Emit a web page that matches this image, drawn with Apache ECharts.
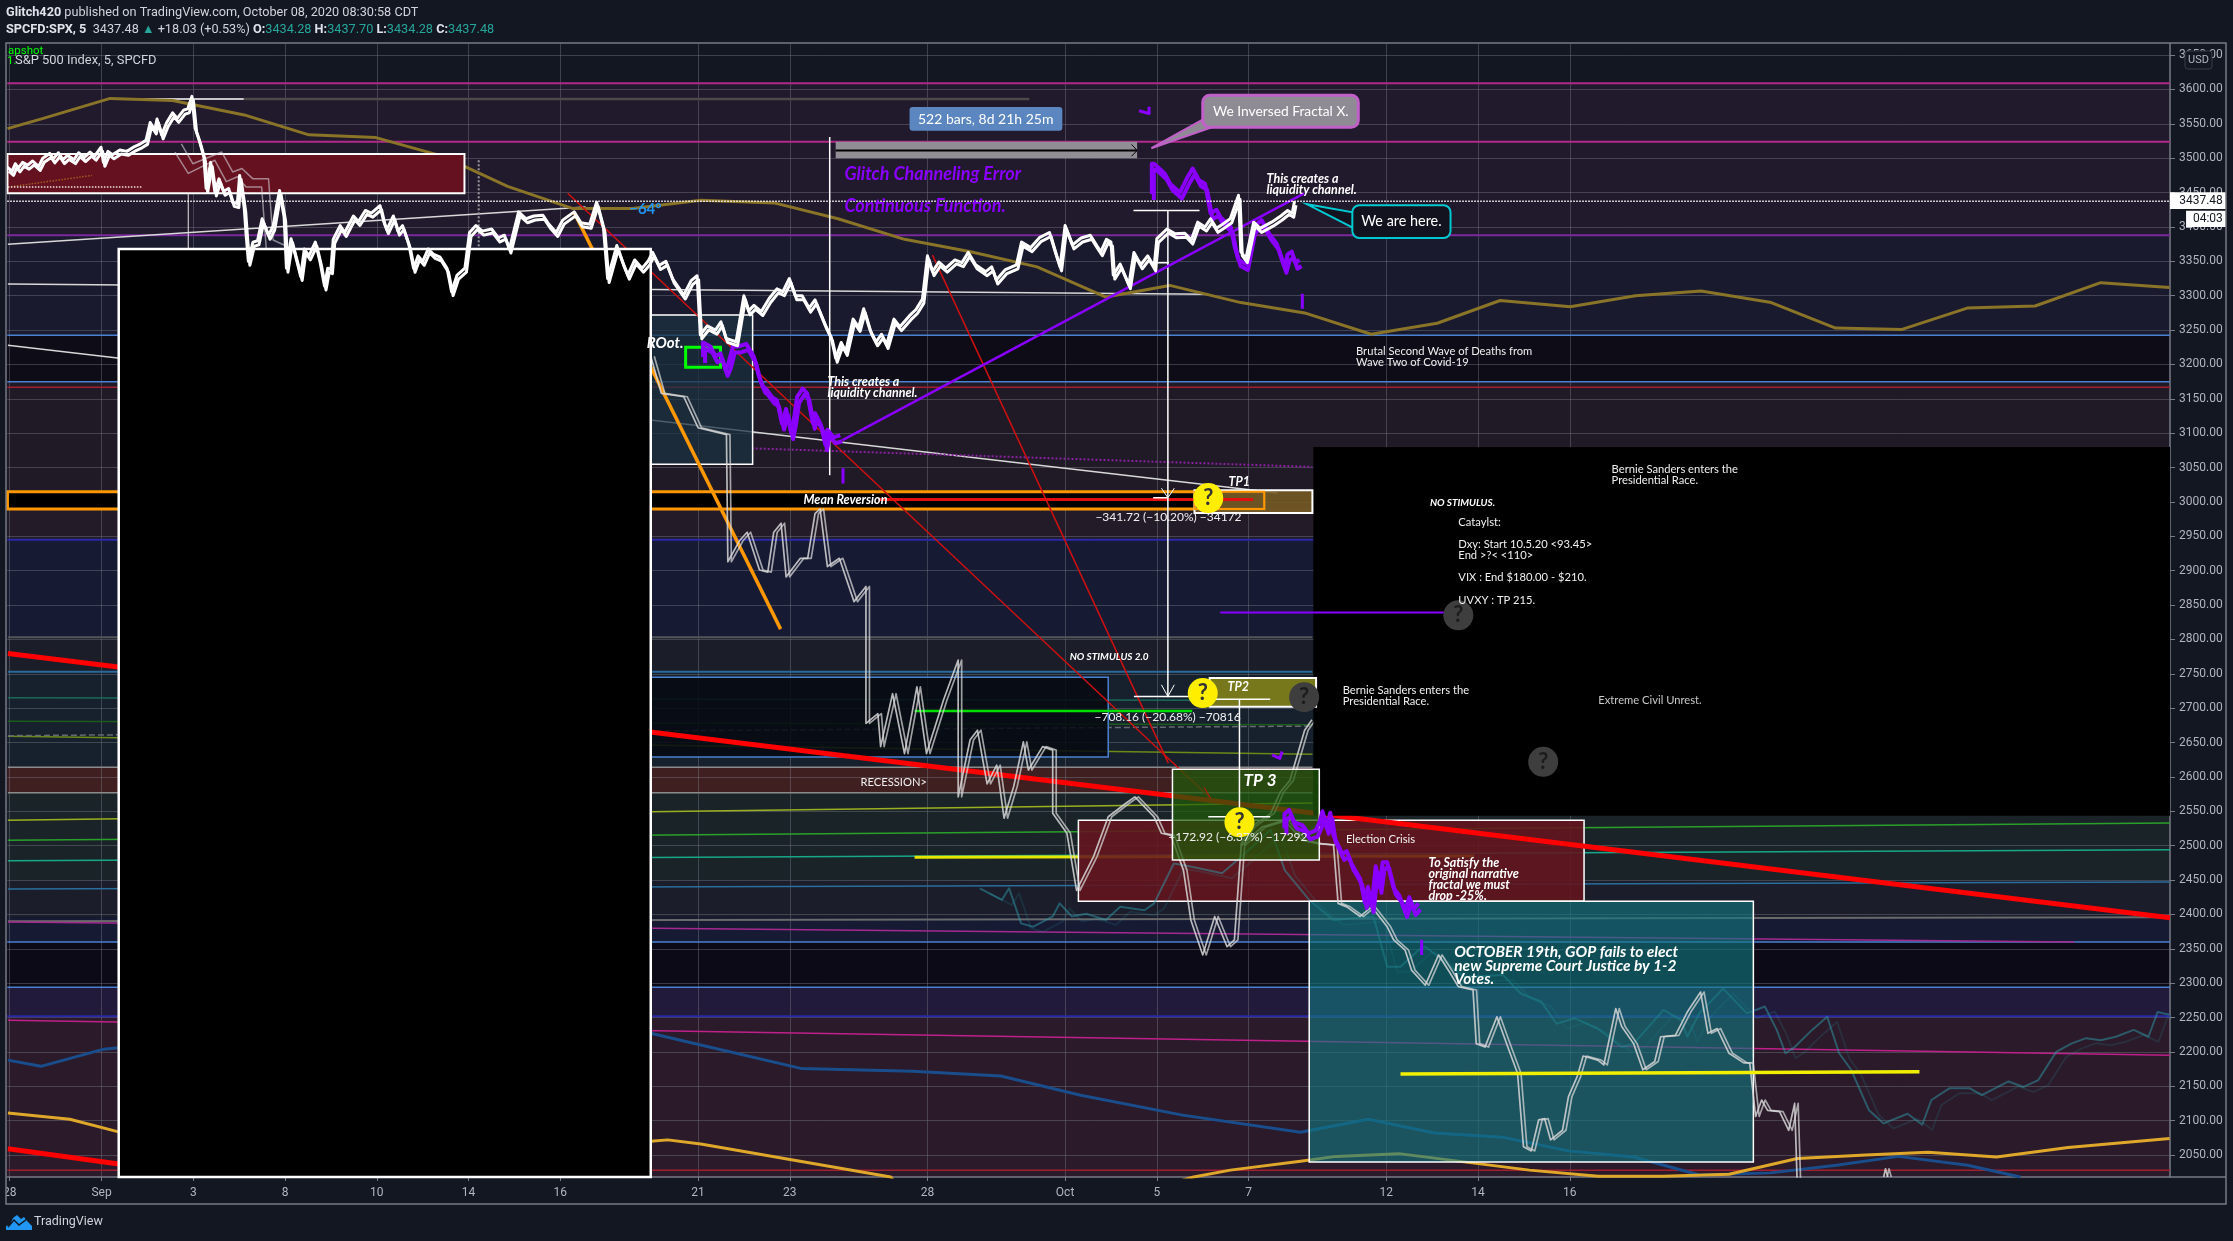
<!DOCTYPE html>
<html><head><meta charset="utf-8">
<style>html,body{margin:0;padding:0;background:#131722}#c{width:2233px;height:1241px}</style>
<script src="https://cdn.jsdelivr.net/npm/echarts@6/dist/echarts.min.js"></script>
</head><body><div id="c"></div>
<script>
// ---------- axes ----------
const dayMin=-0.054, dayMax=47.08, priceMin=2018, priceMax=3666.9;
const dayTicks=[0,2,4,6,8,10,12,15,17,20,23,25,27,30,32,34];
const dayLabels=['28','Sep','3','8','10','14','16','21','23','28','Oct','5','7','12','14','16'];
const priceTicks=[2050,2100,2150,2200,2250,2300,2350,2400,2450,2500,2550,2600,2650,2700,2750,2800,2850,2900,2950,3000,3050,3100,3150,3200,3250,3300,3350,3400,3450,3500,3550,3600,3650];
const lastPrice=3437.48;

// ---------- price series [trading day, price] ----------
const spxPrice=[[-.05,3487],[.05,3481],[.12,3492],[.19,3486],[.28,3494],[.39,3490],[.5,3496],[.63,3488],[.72,3500],[.87,3507],[.95,3499],[1.06,3508],[1.16,3498],[1.26,3504],[1.4,3498],[1.5,3508],[1.62,3501],[1.75,3509],[1.85,3503],[1.99,3516],[2.04,3494],[2.14,3510],[2.24,3505],[2.4,3512],[2.55,3510],[2.72,3517],[2.85,3521],[2.97,3526],[3.06,3552],[3.16,3541],[3.21,3557],[3.31,3534],[3.42,3552],[3.55,3566],[3.65,3558],[3.79,3570],[3.88,3572],[3.97,3590],[4.04,3544],[4.13,3526],[4.23,3502],[4.28,3456],[4.38,3494],[4.47,3451],[4.56,3470],[4.66,3452],[4.77,3456],[4.86,3436],[4.96,3434],[5.01,3475],[5.11,3428],[5.15,3390],[5.2,3350],[5.3,3378],[5.4,3380],[5.5,3412],[5.64,3388],[5.74,3401],[5.82,3432],[5.88,3453],[5.98,3414],[6.03,3340],[6.13,3383],[6.25,3352],[6.34,3328],[6.42,3368],[6.52,3358],[6.66,3378],[6.76,3350],[6.86,3314],[6.93,3340],[7,3338],[7.05,3382],[7.2,3402],[7.3,3392],[7.49,3416],[7.6,3408],[7.75,3424],[7.88,3420],[8.07,3431],[8.15,3408],[8.22,3396],[8.36,3416],[8.46,3394],[8.56,3402],[8.7,3374],[8.8,3340],[8.9,3358],[9,3350],[9.12,3368],[9.24,3360],[9.38,3356],[9.53,3340],[9.63,3306],[9.75,3330],[9.92,3340],[10.02,3392],[10.16,3402],[10.3,3394],[10.5,3397],[10.65,3384],[10.78,3388],[10.89,3368],[11.09,3422],[11.25,3412],[11.42,3416],[11.62,3417],[11.75,3404],[11.91,3392],[12.05,3410],[12.3,3422],[12.45,3406],[12.64,3404],[12.79,3436],[12.94,3398],[13.03,3325],[13.23,3373],[13.35,3350],[13.47,3330],[13.62,3352],[13.78,3340],[13.91,3350],[14.01,3363],[14.15,3344],[14.3,3350],[14.45,3324],[14.69,3301],[14.85,3322],[14.98,3329],[15.05,3243],[15.2,3256],[15.38,3250],[15.5,3262],[15.61,3238],[15.83,3233],[16,3300],[16.1,3278],[16.22,3286],[16.38,3277],[16.55,3296],[16.72,3310],[16.85,3306],[16.99,3325],[17.12,3300],[17.27,3300],[17.42,3282],[17.55,3294],[17.77,3258],[17.9,3240],[18,3209],[18.12,3232],[18.22,3219],[18.38,3266],[18.5,3254],[18.61,3281],[18.75,3250],[18.88,3233],[19,3244],[19.11,3229],[19.27,3266],[19.4,3255],[19.61,3271],[19.75,3280],[19.89,3295],[20,3358],[20.11,3335],[20.25,3349],[20.4,3340],[20.6,3352],[20.75,3348],[20.89,3363],[21.05,3345],[21.27,3335],[21.4,3342],[21.5,3323],[21.7,3338],[21.94,3345],[22.05,3378],[22.25,3370],[22.45,3385],[22.66,3392],[22.78,3365],[22.89,3342],[23,3402],[23.16,3374],[23.35,3384],[23.55,3388],[23.7,3372],[23.78,3364],[23.9,3382],[24,3378],[24.05,3330],[24.2,3346],[24.39,3316],[24.5,3363],[24.65,3345],[24.8,3358],[24.94,3342],[25,3383],[25.22,3397],[25.4,3390],[25.61,3391],[25.75,3381],[25.89,3407],[26.05,3400],[26.17,3412],[26.3,3398],[26.39,3402],[26.6,3412],[26.78,3446],[26.83,3364],[26.94,3354],[27.11,3407],[27.25,3398],[27.5,3407],[27.7,3416],[27.85,3424],[27.95,3420],[28,lastPrice]];
const purpleA=[[15.11,3211],[15.11,3232],[15.27,3226],[15.38,3212],[15.49,3216],[15.6,3192],[15.66,3201],[15.76,3226],[15.88,3226],[16.05,3230],[16.22,3211],[16.33,3182],[16.42,3168],[16.5,3163],[16.62,3152],[16.72,3148],[16.83,3114],[16.92,3135],[17.03,3100],[17.1,3125],[17.16,3153],[17.28,3165],[17.38,3158],[17.5,3115],[17.55,3129],[17.68,3112],[17.77,3084],[17.82,3105],[17.95,3094],[18.1,3097]];
const purpleB=[[24.89,3448],[24.89,3492],[24.94,3492],[25.17,3478],[25.3,3462],[25.5,3450],[25.65,3470],[25.78,3485],[25.92,3468],[26.05,3463],[26.17,3420],[26.3,3425],[26.39,3414],[26.61,3400],[26.7,3370],[26.78,3352],[26.94,3346],[27.1,3400],[27.28,3410],[27.45,3390],[27.61,3376],[27.78,3342],[27.85,3360],[27.94,3364],[28.02,3348],[28.11,3352]];
const purpleC=[[27.78,2525],[27.78,2546],[27.88,2552],[28,2534],[28.17,2530],[28.3,2518],[28.46,2522],[28.55,2535],[28.61,2550],[28.7,2526],[28.78,2548],[28.85,2515],[29.04,2488],[29.14,2492],[29.24,2474],[29.43,2452],[29.53,2418],[29.6,2440],[29.68,2412],[29.77,2470],[29.85,2440],[29.92,2476],[30.02,2476],[30.16,2438],[30.28,2428],[30.41,2405],[30.5,2425],[30.6,2408],[30.7,2416]];
const purpleMarkA=[[24.61,3569],[24.83,3565],[24.83,3575]];
const purpleMarkB=[[27.51,2632],[27.68,2627],[27.73,2637]];
const purpleTickA=[[18.16,3049],[18.16,3027]];
const purpleTickB=[[28.17,3303],[28.17,3281]];
const purpleTickC=[[30.77,2363],[30.77,2341]];

const fractalHead=[[3.74,3521],[3.99,3492],[4.62,3509],[4.86,3480],[5.06,3485],[5.3,3470],[5.64,3470],[5.74,3381],[6.13,3369]];
const fractalHeadB=[[3.6,3509],[3.89,3478],[4.47,3497],[4.72,3466],[4.96,3473],[5.15,3458],[5.49,3458],[5.59,3369]];
const fractalMain=[[13.97,3212],[14.2,3158],[14.69,3153],[15,3108],[15.62,3098],[15.65,2913],[15.91,2944],[16.07,2956],[16.34,2901],[16.52,2898],[16.65,2956],[16.81,2969],[16.92,2891],[17.23,2918],[17.39,2918],[17.55,2983],[17.66,2990],[17.82,2906],[18.08,2918],[18.4,2855],[18.66,2877],[18.66,2678],[18.92,2692],[18.98,2644],[19.24,2721],[19.5,2634],[19.77,2731],[19.98,2634],[20.35,2712],[20.67,2770],[20.67,2571],[20.93,2654],[21.09,2668],[21.3,2590],[21.51,2617],[21.67,2540],[21.88,2586],[22.09,2651],[22.2,2610],[22.51,2644],[22.73,2639],[22.73,2547],[23.04,2518],[23.25,2435],[23.62,2484],[23.94,2542],[24.31,2561],[24.52,2571],[24.94,2542],[25.1,2518],[25.31,2515],[25.58,2464],[25.74,2392],[26,2341],[26.26,2397],[26.53,2353],[26.69,2363],[26.84,2503],[27.05,2527],[27.48,2547],[27.69,2578],[27.9,2595],[28.22,2668],[28.38,2683]];
const fractalTail=[[26.84,2500],[27.29,2527],[27.78,2537],[28.17,2508],[28.51,2503],[28.85,2501],[28.95,2416],[29.14,2411],[29.43,2397],[29.68,2411],[30.02,2382],[30.16,2363],[30.41,2348],[30.55,2319],[30.85,2297],[31.14,2341],[31.37,2317],[31.57,2295],[31.89,2290],[31.96,2212],[32.15,2207],[32.41,2251],[32.67,2203],[32.86,2169],[32.99,2062],[33.16,2056],[33.32,2101],[33.45,2103],[33.58,2072],[33.84,2086],[33.97,2135],[34.16,2164],[34.29,2194],[34.61,2188],[34.74,2181],[35,2263],[35.13,2237],[35.39,2212],[35.59,2174],[35.85,2186],[35.98,2222],[36.3,2224],[36.56,2258],[36.85,2287],[37.01,2227],[37.21,2234],[37.47,2198],[37.79,2184],[37.92,2184],[38.05,2106],[38.18,2130],[38.31,2115],[38.57,2113],[38.77,2086],[38.9,2125],[38.96,2000]];
const fractalSpike=[[40.84,2018],[40.88,2030],[40.93,2018]];
const tealEcho=[[21.14,2438],[21.62,2421],[21.78,2438],[22.04,2387],[22.3,2382],[22.73,2397],[22.88,2416],[23.15,2397],[23.46,2401],[23.89,2392],[24.2,2411],[24.73,2406],[24.94,2416],[25.37,2474],[25.79,2469],[26.42,2460],[26.84,2484],[27.48,2523],[27.79,2464],[28.32,2421],[28.85,2392],[29.72,2397],[30.02,2324],[30.31,2324],[30.7,2348],[30.85,2353],[31.24,2333],[31.7,2309],[32.54,2312],[32.93,2285],[33.38,2273],[33.71,2241],[34.1,2249],[34.61,2234],[35.13,2207],[35.39,2212],[35.78,2241],[36.04,2261],[36.43,2246],[36.56,2222],[36.82,2256],[37.34,2292],[37.86,2256],[38.25,2266],[38.51,2232],[38.7,2198],[38.9,2207],[39.28,2232],[39.61,2251],[39.87,2198],[40.13,2174],[40.52,2115],[40.84,2096],[41.36,2110],[41.68,2094],[41.88,2130],[42.27,2147],[42.72,2147],[42.98,2137],[43.56,2157],[43.89,2149],[44.21,2159],[44.6,2200],[44.93,2212],[45.25,2220],[45.57,2217],[45.9,2222],[46.29,2232],[46.61,2222],[46.81,2258],[47.07,2254]];

// ---------- moving averages ----------
const maGold=[[-.05,3543],[.73,3558],[2.19,3587],[3.55,3584],[5.11,3563],[6.52,3534],[7.98,3530],[9.43,3503],[10.85,3459],[12.26,3427],[13.57,3427],[15.06,3439],[16.66,3435],[18.05,3412],[19.5,3382],[20.94,3364],[22.39,3342],[23.89,3298],[25.28,3315],[26.83,3290],[28.22,3275],[29.67,3244],[31.11,3260],[32.48,3293],[34.01,3284],[35.43,3300],[36.86,3307],[38.39,3290],[39.79,3253],[41.24,3251],[42.66,3282],[44.14,3285],[45.57,3319],[47.07,3312]];
const maBlue=[[-.04,2188],[.68,2179],[2.05,2204],[2.375,2206],[13.97,2227],[15.06,2210],[17.24,2176],[19.68,2172],[21.6,2165],[23.34,2137],[25.56,2108],[28.13,2083],[29.61,2102],[31.05,2082],[32.53,2076],[33.97,2056],[35.39,2047],[36.83,2021],[38.37,2024],[39.81,2035],[41.16,2048],[42.67,2035],[43.82,2018]];
const maYellow=[[-.04,2111],[1.31,2102],[2.35,2084],[13.97,2070],[14.34,2072],[15.06,2066],[19.2,2018],[19.4,2000],[24.86,2000],[25.8,2018],[26.6,2028],[28.13,2041],[28.91,2048],[30.27,2052],[31.7,2040],[33.12,2028],[34.62,2019],[36.04,2019],[37.47,2022],[38.96,2045],[40.45,2050],[41.81,2054],[43.3,2047],[44.86,2061],[47.07,2074]];

// ---------- horizontal levels and trend lines ----------
const levelPink=[3609,3524], levelPurple=3388, levelBlue=[3242.5,3175,2360,2294], levelRed=[3167,2028], levelIndigo=[2945,2252];
const trendWhiteA=[[-.04,3375],[12.55,3429]];
const trendWhiteB=[[-.04,3317],[26.12,3302]];
const trendWhiteC=[[-.04,3228],[27.63,3013]];
const trendRedA=[[-.04,2779.5],[47.08,2395]];
const trendRedB=[[-.04,2059],[2.375,2037]];
const trendOrange=[[12.31,3420],[16.8,2815]];
const trendThinA=[[12.16,3449],[26.17,2569]];
const trendThinB=[[20.11,3359],[25.25,2620]];
const trendPurple=[[18.15,3090],[28.21,3449]];
const trendPurpleDots=[[16.17,3078],[28.39,3051]];
const topWhite=[[2.31,3586],[5.1,3586]];
const topGrey=[[5.1,3586],[22.22,3586]];
const purpleFlat=[[26.38,2839],[31.4,2839]];
const levelsFaint=[[[-.04,2803],[28.39,2803],'#55565a',2],[[-.04,2753],[28.39,2753],'#2a6a9a',2],[[-.04,2715],[28.39,2711],'#1a6a5a',1.5],[[-.04,2681],[28.39,2676],'#1b5b1b',1.5],[[-.04,2659],[28.39,2633],'#6a8a18',1.5],[[-.04,2614],[28.39,2614],'#8b8b8b',1.5],[[-.04,2577],[28.39,2577],'#8b8b8b',1.5],[[-.04,2537],[28.39,2562],'#9ab020',1.5],[[-.04,2508],[47.08,2533],'#2aa02a',1.5],[[-.04,2478],[47.08,2494],'#18a888',1.5],[[-.04,2437],[47.08,2447],'#2a6e9c',1.5],[[-.04,2390],[47.08,2396],'#6a6a6a',2],[[-.04,2389],[45,2360],'#a52a90',1.5],[[-.04,2246],[47.08,2195],'#c0208a',1.5]];
const levelGreen=[[19.72,2696],[25.77,2696]];
const levelDashed=[[-.04,2660],[28.39,2674]];
const levelYellowA=[[19.72,2483],[31.92,2485]];
const levelYellowB=[[30.31,2168],[41.62,2171]];
const levelRedInBand=[[18.93,3003.6],[27.1,3003.6]];
const measureA=[[25.24,3424],[25.24,2716]];
const measureB=[[26.8,2713],[26.8,2542]];
const measureC=[[17.87,3531],[17.87,3039]];
const tickRows=[[[24.49,3424],[25.93,3424]],[[24.93,3348],[25.26,3348]],[[24.5,2717],[25.7,2717]],[[24.92,3006],[25.22,3006]],[[26.12,2713],[27.47,2713]],[[26.12,2542],[27.47,2542]]];
const vertOld=[[3.89,3449],[3.89,3366]];
const vertDots=[[10.22,3497],[10.22,3370]];
const dotsOrange=[[-.04,3458],[1.79,3475]];
const dotsWhite=[[-.04,3458],[2.87,3458]];
const barsCore=[[18,3511.3],[24.57,3511.3]];

// ---------- background bands [upper price, lower price] ----------
const bands=[[3666.9,3609],[3609,3388],[3388,3242.5],[3242.5,3175],[3175,3014],[3014,2990],[2990,2945],[2945,2803],[2803,2754],[2754,2614],[2614,2577],[2577,2450],[2450,2396],[2396,2360],[2360,2294],[2294,2252],[2252,2018]];
const bandColors=['#131722','#21192c','#1a1a2e','#0d0c17','#1f1a26','#000000','#231c28','#161a33','#1b1e28','#17212d','#401f20','#1a2428','#1b1d2b','#161a33','#0c0a16','#211a3a','#2a1a2a'];

// ---------- zones [day from, day to, price top, price bottom] ----------
const zoneAugust=[-.05,9.91,3506,3449];
const zoneBlackLeft=[2.375,13.97,3368,2018];
const zoneRoot=[13.97,16.19,3272,3055];
const zoneGreen=[14.73,15.49,3225,3196];
const zoneMean=[-.05,27.34,3014.7,2989.6];
const zoneMeanEnd=[25.82,27.34,3014.7,2989.6];
const zoneTP1=[25.82,28.39,3017,2984];
const zoneTP2=[26.15,28.47,2744,2702];
const zoneStim=[13.97,23.94,2745,2629];
const zoneElection=[23.29,34.31,2537,2419];
const zoneTP3=[25.34,28.54,2611,2479];
const zoneOctober=[28.32,38,2419,2040];
const zoneBlackRight=[28.41,47.08,3080,2543.5];
const zoneBars=[18,24.57,3523.8,3500];
const zoneBarsTag=[19.61,22.94,3574.7,3539.8];
const zoneInversed=[26,29.39,3591.7,3545];
const zoneHere=[29.26,31.4,3431.7,3384];
const tipInversed=[[24.88,3514.6],[26.05,3558],[26.2,3545]];
const tipHere=[[28.28,3433],[29.3,3421],[29.3,3398]];
const zoneLastTag=[47.08,48.3,3450.5,3426];
const zoneTimerTag=[47.43,48.3,3423.6,3400];

// ---------- question marks [day, price] ----------
const askYellow=[[26.12,3005.6],[26,2722],[26.8,2534]];
const askGrey=[[28.21,2716],[31.57,2835],[33.42,2622]];

// ---------- notes [day, price, text] ----------
const notesChannel=[[18.19,3476.8,'Glitch Channeling Error'],[18.19,3430,'Continuous Function.']];
const notesSmallItalic=[[17.82,3174,'This creates a'],[17.82,3158,'liquidity channel.'],[27.39,3469.5,'This creates a'],[27.39,3453.5,'liquidity channel.'],[17.3,3002.6,'Mean Reversion'],[26.56,3028.8,'TP1'],[26.54,2730.7,'TP2'],[30.92,2474.7,'To Satisfy the'],[30.92,2458.7,'original narrative'],[30.92,2442.7,'fractal we must'],[30.92,2426.7,'drop -25%.']];
const notesTiny=[[23.1,2774.7,'NO STIMULUS 2.0'],[30.95,2998.7,'NO STIMULUS.']];
const notesMeasure=[[23.66,2977.9,'−341.72 (−10.20%) −34172'],[23.64,2687,'−708.16 (−20.68%) −70816'],[25.25,2512.5,'−172.92 (−6.37%) −17292']];
const notesPlain=[[18.54,2592.5,'RECESSION>'],[29.12,2509.6,'Election Crisis'],[29.05,2726.3,'Bernie Sanders enters the'],[29.05,2710.3,'Presidential Race.'],[29.34,3219.4,'Brutal Second Wave of Deaths from'],[29.34,3203.4,'Wave Two of Covid-19'],[34.91,3047.7,'Bernie Sanders enters the'],[34.91,3031.7,'Presidential Race.'],[31.57,2969.8,'Cataylst:'],[31.57,2938.6,'Dxy: Start 10.5.20 <93.45>'],[31.57,2922.6,'End >?< <110>'],[31.57,2890.7,'VIX : End $180.00 - $210.'],[31.57,2857.2,'UVXY : TP 215.']];
const notesOctober=[[31.48,2345.7,'OCTOBER 19th, GOP fails to elect'],[31.48,2325.3,'new Supreme Court Justice by 1-2'],[31.48,2306,'Votes.']];

const FONT='Lato, "Open Sans", sans-serif';
const series=[];
function L(pts,color,w,z,type,extra){series.push({type:'line',data:pts,symbol:'none',silent:true,animation:false,z:z||5,
  lineStyle:Object.assign({color,width:w||1,type:type||'solid',cap:'butt',join:'round'},extra||{})});}
function Z(zone,style,z,r){series.push({type:'custom',silent:true,animation:false,z:z||7,data:[[zone[0],zone[2]]],encode:{x:0,y:1},
  renderItem(p,api){const a=api.coord([zone[0],zone[2]]),b=api.coord([zone[1],zone[3]]);
    return {type:'rect',shape:{x:a[0],y:a[1],width:b[0]-a[0],height:b[1]-a[1],r:r||0},style};}});}
function P(pts,style,z){series.push({type:'custom',silent:true,animation:false,z,data:[pts[0]],encode:{x:0,y:1},
  renderItem(p,api){return {type:'polygon',shape:{points:pts.map(q=>api.coord(q))},style};}});}
function T(rows,font,fill,z,align){series.push({type:'custom',silent:true,animation:false,z:z||50,data:rows,encode:{x:0,y:1},
  renderItem(p,api){const c=api.coord([api.value(0),api.value(1)]);
    return {type:'text',x:c[0],y:c[1],style:{text:rows[p.dataIndex][2],font,fill,verticalAlign:'middle',align:align||'left'}};}});}
function Q(rows,circle,mark){series.push({type:'custom',silent:true,animation:false,z:45,data:rows,encode:{x:0,y:1},
  renderItem(p,api){const c=api.coord([api.value(0),api.value(1)]);
    return {type:'group',children:[{type:'circle',shape:{cx:c[0],cy:c[1],r:15},style:{fill:circle}},
      {type:'text',x:c[0],y:c[1],style:{text:'?',font:'bold 22px '+FONT,fill:mark,align:'center',verticalAlign:'middle'}}]};}});}

// bands
bands.forEach((b,i)=>Z([dayMin,dayMax,b[0],b[1]],{fill:bandColors[i]},1));
// levels
levelPink.forEach(v=>L([[dayMin,v],[dayMax,v]],'#b02a8a',2));
L([[dayMin,levelPurple],[dayMax,levelPurple]],'#7b2a9e',2);
levelIndigo.forEach(v=>L([[dayMin,v],[dayMax,v]],'#2a2aa8',2));
levelBlue.forEach(v=>L([[dayMin,v],[dayMax,v]],'#4a80d0',1.5));
levelRed.forEach(v=>L([[dayMin,v],[dayMax,v]],'#a02030',1.5));
levelsFaint.forEach(r=>L([r[0],r[1]],r[2],r[3]));
L(levelDashed,'#666a70',1.5,5,'dashed');
L(levelGreen,'#00e000',2.5,9);
L(levelYellowA,'#e6e600',3,5);
L(topGrey,'#4a4a4a',2.5);
L(topWhite,'#ffffff',1.5);
L(trendWhiteA,'#d8d8d8',1.5);L(trendWhiteB,'#d8d8d8',1.5);L(trendWhiteC,'#d8d8d8',1.5);
L(trendPurpleDots,'#8a20a0',2,5,'dotted');
L(maGold,'#8a7428',3,6);L(maBlue,'#1a4d8c',3,6);L(maYellow,'#e0a82a',3,6);
L(vertOld,'#e8e8e8',1);L(vertDots,'#9a9aa0',2,5,'dotted');
L(dotsOrange,'#a05a20',1.5,9,'dotted');L(dotsWhite,'#f0e0e0',1.5,9,'dotted');
// zones
Z(zoneAugust,{fill:'#661120',stroke:'#fff',lineWidth:2},7);
Z(zoneRoot,{fill:'rgba(28,50,66,.75)',stroke:'#fff',lineWidth:1.5},7);
Z(zoneStim,{fill:'rgba(6,10,18,.86)',stroke:'#4a80d0',lineWidth:1.5},7);
Z(zoneMean,{fill:'#000',stroke:'#ff9800',lineWidth:3},6);
Z(zoneElection,{fill:'rgba(100,20,30,.88)',stroke:'#fff',lineWidth:1.5},7);
Z(zoneOctober,{fill:'rgba(18,120,128,.62)',stroke:'#fff',lineWidth:1.5},11);
// trends over zones
L(trendRedA,'#ff0000',5,8);L(trendRedB,'#ff0000',5,8);
L(trendThinA,'#d01010',1.5,8);L(trendThinB,'#d01010',1.5,8);
L(trendOrange,'#ff9800',3.5,9);
// echoes
L(tealEcho,'rgba(47,154,168,.5)',2,9,'solid',{shadowColor:'rgba(47,154,168,.3)',shadowOffsetX:10,shadowOffsetY:5,shadowBlur:0});
[fractalHead,fractalHeadB].forEach(f=>L(f,'rgba(210,210,215,.6)',1.5,10));
const twin={shadowColor:'rgba(215,215,215,.85)',shadowOffsetX:3.5,shadowOffsetY:0,shadowBlur:0};
[fractalMain,fractalTail,fractalSpike].forEach(f=>L(f,'rgba(215,215,215,.85)',1.7,12,'solid',twin));
// blocks
Z(zoneBlackLeft,{fill:'#000',stroke:'#fff',lineWidth:2.5},30);
Z(zoneBlackRight,{fill:'#000'},30);
Z(zoneTP1,{fill:'rgba(120,92,40,.9)',stroke:'#fff',lineWidth:2},35);
Z(zoneMeanEnd,{fill:'none',stroke:'#ff9800',lineWidth:2},35);
L(levelRedInBand,'#e01010',3,36);
Z(zoneTP2,{fill:'#77771c',stroke:'#fff',lineWidth:2},35);
Z(zoneTP3,{fill:'rgba(30,90,10,.72)',stroke:'#fff',lineWidth:1.5},35);
Z(zoneGreen,{fill:'transparent',stroke:'#00ff00',lineWidth:3},36);
L(trendThinA.slice(-1).concat([[26.03,2585]]),'#d01010',1,36);
L(levelYellowB,'#f0f000',3.5,37);
L(measureC,'#ffffff',1.5,38);L(measureA,'#ffffff',1.5,38);L(measureB,'#ffffff',1.5,38);
tickRows.forEach(r=>L(r,'#ffffff',1.5,38));
L([[25.1,2734],[25.24,2717],[25.38,2734]],'#ffffff',1,38);
L([[25.1,3020],[25.24,3006],[25.38,3020]],'#ffffff',1,38);
L(purpleFlat,'#8a00ff',2,36);
Z(zoneBars,{fill:'#918e96'},20);L(barsCore,'#000',2,21);
L([[24.45,3520],[24.57,3511.3],[24.45,3503]],'#000',1,21);
Z(zoneBarsTag,{fill:'#5b86c0'},20,3);
P(tipInversed,{fill:'#8f8b95',stroke:'#c060c8',lineWidth:2},39);
Z(zoneInversed,{fill:'#8f8b95',stroke:'#c060c8',lineWidth:3},40,7);
P(tipHere,{fill:'#131320',stroke:'#00c8d0',lineWidth:2},39);
Z(zoneHere,{fill:'#131320',stroke:'#00c8d0',lineWidth:2},40,7);
// prices
L(spxPrice,'#ffffff',3,42,'solid',{shadowColor:'#ffffff',shadowOffsetX:1.5,shadowOffsetY:4,shadowBlur:0});
L(trendPurple,'#8a00ff',2.5,41);
const ragged={shadowColor:'#8a00ff',shadowOffsetX:2,shadowOffsetY:6,shadowBlur:0};
[purpleA,purpleB,purpleC].forEach(f=>L(f,'#8a00ff',4,41,'solid',ragged));
[purpleMarkA,purpleMarkB].forEach(f=>L(f,'#8a00ff',3,41));
[purpleTickA,purpleTickB,purpleTickC].forEach(f=>L(f,'#8a00ff',3,41));
L([[dayMin,lastPrice],[dayMax,lastPrice]],'#ffffff',1.5,43,'dotted');
// marks
Q(askYellow,'#ffee00','#333333');
Q(askGrey,'#3e3e3e','#1c1c1c');
// notes
T(notesChannel,'italic bold 18px '+FONT,'#8a00ff');
T([[13.88,3231,'ROot.']],'italic bold 15px '+FONT,'#ffffff');
T(notesSmallItalic,'italic bold 12.5px '+FONT,'#ffffff');
T(notesTiny,'italic bold 10px '+FONT,'#ffffff');
T(notesMeasure,'12px '+FONT,'#f0f0f0');
T(notesPlain,'11.2px '+FONT,'#f0f0f0');
T([[34.62,2711.8,'Extreme Civil Unrest.']],'11.2px '+FONT,'#c8c8c8');
T(notesOctober,'italic bold 15.5px '+FONT,'#ffffff');
T([[26.89,2595.4,'TP 3']],'italic bold 17px '+FONT,'#ffffff');
T([[13.5,3425.9,'−64°']],'bold 15px '+FONT,'#2196f3');
T([[21.27,3557,'522 bars, 8d 21h 25m']],'14px '+FONT,'#ffffff',51,'center');
T([[27.7,3568,'We Inversed Fractal X.']],'13.8px '+FONT,'#ffffff',51,'center');
T([[30.33,3408,'We are here.']],'14.4px '+FONT,'#ffffff',51,'center');
// last price tags
Z(zoneLastTag,{fill:'#ffffff'},60);
Z(zoneTimerTag,{fill:'#ffffff'},60);
T([[47.28,lastPrice,'3437.48']],'12px Roboto','#131722',61);
T([[47.58,3411.5,'04:03']],'12px Roboto','#131722',61);

const option={
  backgroundColor:'#131722',animation:false,
  grid:{left:6.5,right:63,top:43.5,bottom:64,containLabel:false},
  xAxis:{type:'value',min:dayMin,max:dayMax,z:3,
    axisLine:{show:true,onZero:false,lineStyle:{color:'#787b86',width:1.5}},
    axisTick:{show:true,length:4,customValues:dayTicks,lineStyle:{color:'#787b86'}},
    axisLabel:{show:true,customValues:dayTicks,color:'#b2b5be',fontFamily:'Roboto',fontSize:12,margin:10,
      formatter:v=>dayLabels[dayTicks.indexOf(v)]},
    splitLine:{show:true,customValues:dayTicks,lineStyle:{color:'rgba(120,123,134,.42)',width:1}}},
  yAxis:{type:'value',position:'right',min:priceMin,max:priceMax,z:3,
    axisLine:{show:true,onZero:false,lineStyle:{color:'#787b86',width:1.5}},
    axisTick:{show:true,length:5,customValues:priceTicks,lineStyle:{color:'#787b86'}},
    axisLabel:{show:true,customValues:priceTicks,color:'#b2b5be',fontFamily:'Roboto',fontSize:12,margin:9,
      formatter:v=>v.toFixed(2)},
    splitLine:{show:true,customValues:priceTicks,lineStyle:{color:'rgba(120,123,134,.42)',width:1}}},
  series,
  graphic:[
    {type:'rect',z:90,silent:true,shape:{x:0,y:1178,width:6,height:26},style:{fill:'#131722'}},
    {type:'rect',z:91,silent:true,shape:{x:6,y:43,width:2220,height:1161},style:{fill:'none',stroke:'#787b86',lineWidth:1.5}},
    {type:'line',z:91,silent:true,shape:{x1:2170,y1:1177,x2:2226,y2:1177},style:{stroke:'#787b86',lineWidth:1.5}},
    {type:'rect',z:92,silent:true,shape:{x:2185,y:51,width:27,height:18,r:3},style:{fill:'#131722',stroke:'#3a3e4a',lineWidth:1}},
    {type:'text',z:93,silent:true,x:2198.5,y:60,style:{text:'USD',font:'11px Roboto',fill:'#b2b5be',align:'center',verticalAlign:'middle'}},
    {type:'text',z:93,silent:true,x:6,y:13,style:{verticalAlign:'middle',font:'12.7px Roboto',fill:'#d1d4dc',
      text:'{b|Glitch420} published on TradingView.com, October 08, 2020 08:30:58 CDT',
      rich:{b:{font:'bold 12.7px Roboto',fill:'#e0e3eb'}}}},
    {type:'text',z:93,silent:true,x:6,y:30,style:{verticalAlign:'middle',font:'12.7px Roboto',fill:'#d1d4dc',
      text:'{b|SPCFD:SPX, 5}  3437.48 {t|▲} +18.03 (+0.53%) {b|O:}{t|3434.28} {b|H:}{t|3437.70} {b|L:}{t|3434.28} {b|C:}{t|3437.48}',
      rich:{b:{font:'bold 12.7px Roboto',fill:'#e0e3eb'},t:{font:'12.7px Roboto',fill:'#26a69a'}}}},
    {type:'text',z:93,silent:true,x:8,y:51,style:{text:'apshot',font:'11.5px Roboto',fill:'#00ff00',verticalAlign:'middle'}},
    {type:'text',z:93,silent:true,x:7,y:61,style:{text:'1.',font:'11.5px Roboto',fill:'#00ff00',verticalAlign:'middle'}},
    {type:'text',z:93,silent:true,x:15,y:61,style:{text:'S&P 500 Index, 5, SPCFD',font:'12.9px Roboto',fill:'#d1d4dc',verticalAlign:'middle'}},
    {type:'polygon',z:93,silent:true,shape:{points:[[6,1230],[6,1226],[10,1225],[13,1218],[17,1215],[21,1219],[24,1217],[28,1222],[32,1226],[32,1230]]},style:{fill:'#2196f3'}},
    {type:'polyline',z:94,silent:true,shape:{points:[[8,1227],[14,1220],[19,1225],[27,1219]]},style:{stroke:'#131722',lineWidth:1.5,fill:'none'}},
    {type:'text',z:93,silent:true,x:34,y:1222,style:{text:'TradingView',font:'12.5px Roboto',fill:'#d1d4dc',verticalAlign:'middle'}}
  ]
};
echarts.init(document.getElementById('c'),null,{renderer:'canvas'}).setOption(option);
</script></body></html>
